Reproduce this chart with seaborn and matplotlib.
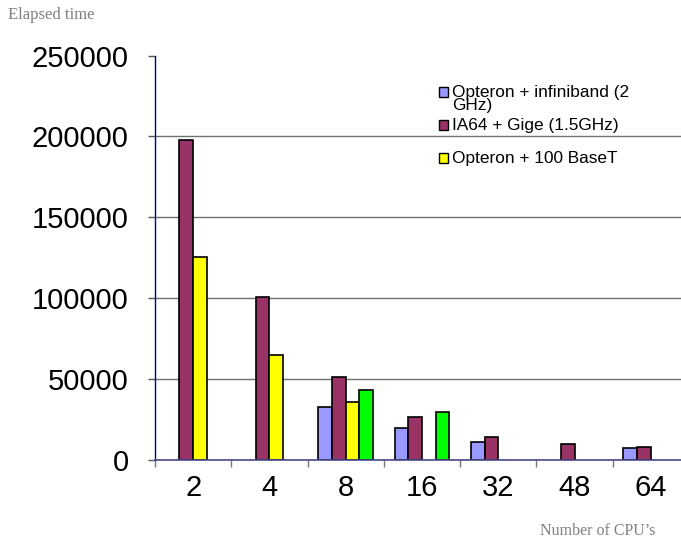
import matplotlib
matplotlib.use("Agg")
import matplotlib.pyplot as plt
from matplotlib.patches import Rectangle
from matplotlib.ticker import FixedLocator
import numpy as np
import pandas as pd
import seaborn as sns

# Elapsed run time per CPU count for each cluster configuration
cpus = ["2", "4", "8", "16", "32", "48", "64"]
opteron_infiniband = [np.nan, np.nan, 33000, 19600, 11300, np.nan, 7200]
ia64_gige = [197800, 100900, 51500, 26600, 14400, 10100, 8000]
opteron_100baset = [125400, 65200, 35900, np.nan, np.nan, np.nan, np.nan]
opteron_other = [np.nan, np.nan, 43300, 29900, np.nan, np.nan, np.nan]

series_names = [
    "Opteron + infiniband (2\nGHz)",
    "IA64 + Gige (1.5GHz)",
    "Opteron + 100 BaseT",
    "Opteron (other)",
]
series_colors = ["#9999FF", "#993366", "#FFFF00", "#00FF00"]
y_ticks = [0, 50000, 100000, 150000, 200000, 250000]

frames = []
for name, vals in zip(series_names,
                      [opteron_infiniband, ia64_gige, opteron_100baset, opteron_other]):
    frames.append(pd.DataFrame({"cpus": cpus, "time": vals, "config": name}))
df = pd.concat(frames, ignore_index=True)

sns.set_style("white")
plt.rcParams["font.family"] = ["Liberation Sans", "DejaVu Sans"]

fig = plt.figure(figsize=(6.81, 5.44), dpi=100)
ax = fig.add_axes([155 / 681, 84 / 544, 534 / 681, 404.5 / 544])

sns.barplot(
    data=df, x="cpus", y="time", hue="config",
    order=cpus, hue_order=series_names,
    palette=series_colors, saturation=1, width=0.72, errorbar=None,
    edgecolor="black", linewidth=1.2, legend=False, ax=ax,
)

ax.set_ylim(0, 250000)
ax.set_xlim(-0.5, len(cpus) - 0.5)
ax.set_yticks(y_ticks)
ax.set_yticklabels([str(v) for v in y_ticks])
ax.set_xlabel("")
ax.set_ylabel("")

# horizontal gridlines, hidden at the top edge
ax.yaxis.grid(True, color="#707070", linewidth=1.0)
ax.set_axisbelow(True)
ax.get_ygridlines()[-1].set_visible(False)

for side in ["top", "right"]:
    ax.spines[side].set_visible(False)
ax.spines["left"].set_color("#000080")
ax.spines["left"].set_linewidth(1.0)
ax.spines["bottom"].set_color("#4a4a8a")
ax.spines["bottom"].set_linewidth(1.2)

ax.tick_params(axis="y", which="major", direction="out", length=5, width=1,
               color="#555555", pad=14, labelsize=21, labelcolor="black", left=True)
# category separators as minor ticks on the x axis
ax.xaxis.set_minor_locator(FixedLocator(np.arange(-0.5, len(cpus), 1.0)))
ax.tick_params(axis="x", which="minor", direction="out", length=5, width=1,
               color="#777777", bottom=True)
ax.tick_params(axis="x", which="major", length=0, pad=10, labelsize=21,
               labelcolor="black")

# axis captions
fig.text(8 / 681, 1 - 15 / 544, "Elapsed time", family="Liberation Serif",
         fontsize=12, color="#808080", ha="left", va="center")
fig.text(540 / 681, 1 - 531 / 544, "Number of CPU\u2019s", family="Liberation Serif",
         fontsize=11.5, color="#808080", ha="left", va="center")

# legend entries (first three configurations)
legend_rows = [(92, 0), (125, 1), (158, 2)]
for y_px, idx in legend_rows:
    fig.patches.append(Rectangle((439 / 681, 1 - (y_px + 4.5) / 544), 9 / 681, 9 / 544,
                                 transform=fig.transFigure, facecolor=series_colors[idx],
                                 edgecolor="black", linewidth=1.0))
    fig.text(452 / 681, 1 - (y_px - 7) / 544, series_names[idx], fontsize=12.4,
             color="black", ha="left", va="top", linespacing=0.85)

fig.savefig("out.png", dpi=100)
